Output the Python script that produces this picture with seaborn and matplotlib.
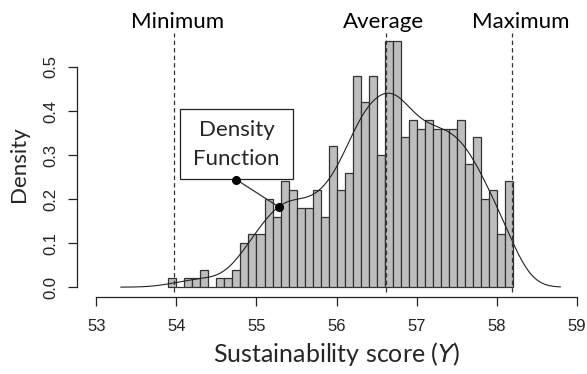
import numpy as np
import pandas as pd
import matplotlib
matplotlib.use("Agg")
import matplotlib.pyplot as plt
import seaborn as sns
from matplotlib.patches import Rectangle

# ---- data ----
bin_start = 53.9
bin_width = 0.1
counts = [1, 0, 1, 1, 2, 0, 1, 1, 2, 5, 6, 6, 10, 8, 12, 11, 9, 9, 11, 8, 16,
          11, 13, 24, 21, 24, 15, 28, 28, 17, 19, 18, 19, 18, 18, 18, 19, 14,
          17, 10, 11, 6, 12]
minimum_value = 53.975
average_value = 56.62
maximum_value = 58.19
x_ticks = [53, 54, 55, 56, 57, 58, 59]
y_ticks = [0.0, 0.1, 0.2, 0.3, 0.4, 0.5]
y_tick_labels = ["0.0", "0.1", "0.2", "0.3", "0.4", "0.5"]
marker_labels = ["Minimum", "Average", "Maximum"]
marker_label_x = [54.01, 56.59, 58.3]
annot_point_box = (54.75, 0.244)
annot_point_curve = (55.275, 0.1825)

n_bins = len(counts)
edges = bin_start + bin_width * np.arange(n_bins + 1)
centers = edges[:-1] + bin_width / 2
sample = np.repeat(centers, counts)
df = pd.DataFrame({"score": sample})

sns.set_theme(style="ticks")
plt.rcParams["font.family"] = ["Liberation Sans", "DejaVu Sans"]
label_font = "Lato"

fig = plt.figure(figsize=(5.87, 3.74), dpi=100)
ax = fig.add_axes([0.1312, 0.2059, 0.8845, 0.712])

sns.histplot(data=df, x="score", bins=edges, stat="density", ax=ax,
             color="#BEBEBE", edgecolor="#333333", linewidth=0.9, alpha=1.0)
sns.kdeplot(data=df, x="score", ax=ax, color="#222222", linewidth=0.8,
            bw_adjust=0.85, cut=3)

ax.set_xlim(52.76, 59.24)
ax.set_ylim(-0.0224, 0.5824)

# vertical reference lines
for v in [minimum_value, average_value, maximum_value]:
    ax.vlines(v, -0.012, 0.577, colors="#333333", linestyles=(0, (3.5, 2.5)),
              linewidth=0.9, zorder=5)
for v, lab in zip(marker_label_x, marker_labels):
    ax.text(v, 1.01, lab, transform=ax.get_xaxis_transform(), ha="center",
            va="baseline", fontsize=16, family=label_font, color="black")

# annotation box
box = Rectangle((54.046, 0.245), 55.46 - 54.046, 0.405 - 0.245,
                facecolor="white", edgecolor="#222222", linewidth=0.9, zorder=6)
ax.add_patch(box)
ax.text(54.75, 0.358, "Density", ha="center", va="center", fontsize=16,
        family=label_font, zorder=7)
ax.text(54.75, 0.290, "Function", ha="center", va="center", fontsize=16,
        family=label_font, zorder=7)
ax.plot([annot_point_box[0], annot_point_curve[0]],
        [annot_point_box[1], annot_point_curve[1]], color="#333333",
        linewidth=0.9, marker="o", markersize=5.5, markerfacecolor="black",
        markeredgecolor="black", zorder=8)

# axes styling (R-like)
sns.despine(ax=ax, top=True, right=True)
ax.spines["left"].set_bounds(0, 0.5)
ax.spines["bottom"].set_bounds(53, 59)
for s in ["left", "bottom"]:
    ax.spines[s].set_color("#222222")
    ax.spines[s].set_linewidth(0.9)
ax.set_xticks(x_ticks)
ax.set_xticklabels([str(t) for t in x_ticks])
ax.set_yticks(y_ticks)
ax.set_yticklabels(y_tick_labels, rotation=90, va="center")
ax.tick_params(axis="both", direction="out", length=6.5, width=0.9,
               colors="#222222", labelsize=12, labelcolor="#222222")
ax.tick_params(axis="x", pad=9)
ax.tick_params(axis="y", pad=7)

ax.set_xlabel("Sustainability score ($\\it{Y}$)", fontsize=18, family=label_font,
              labelpad=5)
ax.set_ylabel("Density", fontsize=16, family=label_font, labelpad=10)
ax.grid(False)

fig.savefig("out.png", dpi=100)
